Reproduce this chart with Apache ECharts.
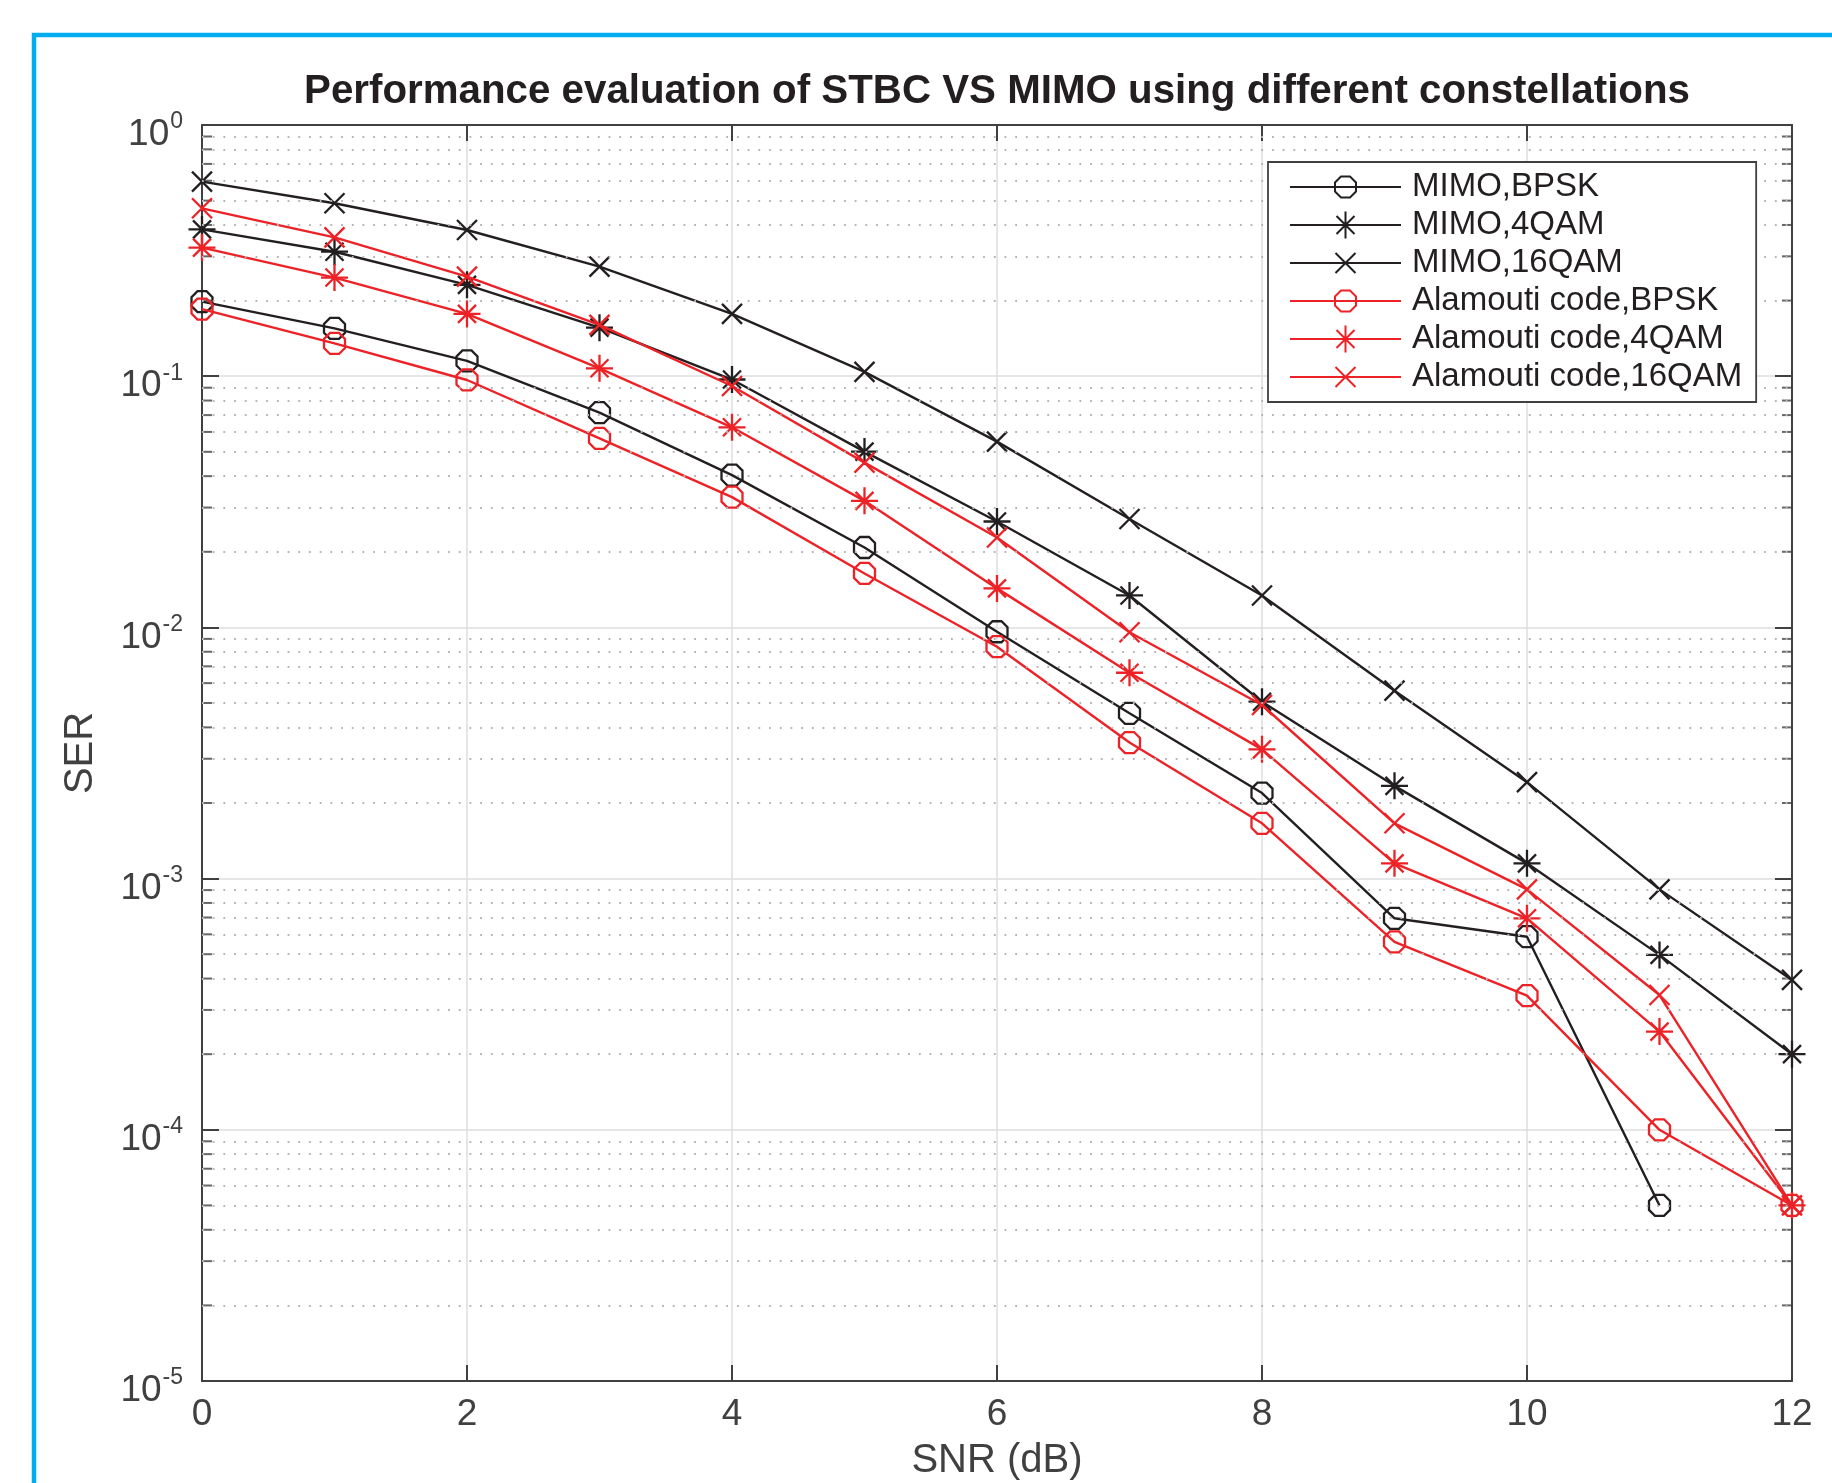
<!DOCTYPE html>
<html><head><meta charset="utf-8">
<style>html,body{margin:0;padding:0;background:#fff}#chart{width:1832px;height:1483px}</style>
<script src="https://cdn.jsdelivr.net/npm/echarts@6/dist/echarts.min.js"></script>
</head><body><div id="chart"></div>
<script>
// ---- data ----
const snr = [0, 1, 2, 3, 4, 5, 6, 7, 8, 9, 10, 11, 12];
const mimoBpsk   = [0.198, 0.155, 0.115, 0.0716, 0.0404, 0.0208, 0.00961, 0.00455, 0.00219, 0.000695, 0.000587, 0.00005, null];
const mimo4qam   = [0.384, 0.313, 0.231, 0.156, 0.097, 0.0501, 0.0264, 0.0134, 0.00506, 0.00234, 0.00115, 0.000497, 0.0002];
const mimo16qam  = [0.595, 0.488, 0.382, 0.273, 0.177, 0.104, 0.0549, 0.027, 0.0134, 0.0056, 0.00242, 0.000906, 0.000395];
const alaBpsk    = [0.185, 0.135, 0.0966, 0.0566, 0.033, 0.0164, 0.00838, 0.00348, 0.00166, 0.00056, 0.000342, 0.0001, 0.00005];
const ala4qam    = [0.325, 0.247, 0.177, 0.1075, 0.0626, 0.0319, 0.0143, 0.0066, 0.00327, 0.00115, 0.000695, 0.000246, 0.00005];
const ala16qam   = [0.466, 0.357, 0.249, 0.160, 0.0914, 0.0453, 0.0228, 0.00956, 0.00491, 0.00166, 0.000906, 0.000344, 0.00005];
const seriesNames = ['MIMO,BPSK', 'MIMO,4QAM', 'MIMO,16QAM', 'Alamouti code,BPSK', 'Alamouti code,4QAM', 'Alamouti code,16QAM'];
const xTickLabels = [0, 2, 4, 6, 8, 10, 12];
const yTickExponents = [0, -1, -2, -3, -4, -5];
const minorMultipliers = [2, 3, 4, 5, 6, 7, 8, 9];
const titleText = 'Performance evaluation of STBC VS MIMO using different constellations';
const xName = 'SNR (dB)';
const yName = 'SER';

// ---- styling ----
const FONT = '"Liberation Sans", Arial, Helvetica, sans-serif';
const AX = '#404040';
const BLACK = '#231f20';
const RED = '#ec2227';
const OCT = 'path://M0 0M28 28M9.5 3.5L18.5 3.5L24.5 9.5L24.5 18.5L18.5 24.5L9.5 24.5L3.5 18.5L3.5 9.5Z';
const STAR = 'path://M0 0M28 28M14 0.5L14 27.5M0.5 14L27.5 14M5 5L23 23M23 5L5 23';
const CROSS = 'path://M0 0M28 28M4 4L24 24M24 4L4 24';

const yMin = Math.pow(10, Math.min(...yTickExponents));
const yMax = Math.pow(10, Math.max(...yTickExponents));
const minorValues = [];
yTickExponents.slice(1).forEach(e => {
  minorMultipliers.forEach(m => minorValues.push(Number((m * Math.pow(10, e)).toPrecision(3))));
});

function lineSeries(name, values, color, symbol, z) {
  return {
    name: name, type: 'line',
    data: snr.map((x, i) => [x, values[i]]).filter(d => d[1] != null),
    symbol: symbol, symbolSize: 28, showSymbol: true, clip: false,
    itemStyle: { color: 'none', borderColor: color, borderWidth: 2.3 },
    lineStyle: { color: color, width: 2.4 },
    emphasis: { disabled: true }, z: z, animation: false
  };
}

const xMin = Math.min(...snr), xMax = Math.max(...snr);

const chart = echarts.init(document.getElementById('chart'), null, { renderer: 'canvas' });
const option = {
  backgroundColor: '#fff',
  animation: false,
  graphic: [
    { type: 'rect', silent: true, z: 0, shape: { x: 34, y: 35, width: 1900, height: 1600 },
      style: { fill: 'none', stroke: '#00aeef', lineWidth: 4.5 } },
    { type: 'text', silent: true, x: 997, y: 92,
      style: { text: titleText, font: 'bold 40.3px ' + FONT, fill: BLACK, align: 'center', verticalAlign: 'middle',
               textAlign: 'center', textVerticalAlign: 'middle' } }
  ],
  grid: { left: 202, top: 125, right: 40, bottom: 102, containLabel: false, outerBoundsMode: 'none' },
  legend: {
    data: seriesNames, orient: 'vertical', left: 1268, top: 162,
    padding: [6, 14, 6, 21], itemWidth: 111, itemHeight: 35, itemGap: 0,
    borderColor: AX, borderWidth: 1.8, backgroundColor: '#fff', selectedMode: false,
    textStyle: { fontFamily: FONT, fontSize: 33, color: BLACK, lineHeight: 38, padding: [0, 0, 0, 6] },
    z: 10
  },
  xAxis: [
    { type: 'value', position: 'bottom', min: xMin, max: xMax, interval: 2,
      name: xName, nameLocation: 'middle', nameGap: 60,
      nameTextStyle: { fontFamily: FONT, fontSize: 40, color: AX },
      axisLine: { show: true, onZero: false, lineStyle: { color: AX, width: 2 } },
      axisTick: { show: true, inside: true, length: 16, lineStyle: { color: AX, width: 2 } },
      axisLabel: { show: true, margin: 15, fontFamily: FONT, fontSize: 37, color: AX,
                   showMinLabel: true, showMaxLabel: true,
                   formatter: v => (xTickLabels.indexOf(v) >= 0 ? String(v) : '') },
      splitLine: { show: true, lineStyle: { color: '#dedede', width: 1.5 } } },
    { type: 'value', position: 'top', min: xMin, max: xMax, interval: 2,
      axisLine: { show: true, onZero: false, lineStyle: { color: AX, width: 2 } },
      axisTick: { show: true, inside: true, length: 16, lineStyle: { color: AX, width: 2 } },
      axisLabel: { show: false }, splitLine: { show: false } }
  ],
  yAxis: [
    { type: 'log', logBase: 10, position: 'left', min: yMin, max: yMax, splitNumber: 5,
      name: yName, nameLocation: 'middle', nameGap: 101,
      nameTextStyle: { fontFamily: FONT, fontSize: 40, color: AX },
      axisLine: { show: true, onZero: false, lineStyle: { color: AX, width: 2 } },
      axisTick: { show: true, inside: true, length: 17, lineStyle: { color: AX, width: 2 } },
      axisLabel: { show: true, margin: 19, color: AX, padding: [14, 0, 0, 0],
                   showMinLabel: true, showMaxLabel: true,
                   formatter: v => {
                     const e = Math.round(Math.log10(v));
                     return yTickExponents.indexOf(e) >= 0 ? '{b|10}{s|' + e + '}' : '';
                   },
                   rich: {
                     b: { fontFamily: FONT, fontSize: 37, lineHeight: 37, color: AX, verticalAlign: 'bottom' },
                     s: { fontFamily: FONT, fontSize: 23, color: AX, verticalAlign: 'top', padding: [0, 0, 20, 1] }
                   } },
      splitLine: { show: true, lineStyle: { color: '#dedede', width: 1.5 } } },
    { type: 'log', logBase: 10, position: 'right', min: yMin, max: yMax, splitNumber: 5,
      axisLine: { show: true, onZero: false, lineStyle: { color: AX, width: 2 } },
      axisTick: { show: true, inside: true, length: 17, lineStyle: { color: AX, width: 2 } },
      axisLabel: { show: false }, splitLine: { show: false } }
  ],
  series: [
    { name: 'minorLeft', type: 'scatter', silent: true, z: 1, animation: false,
      data: minorValues.map(v => [xMin, v]), symbol: 'rect', symbolSize: [10, 2], symbolOffset: [5, 0],
      itemStyle: { color: AX }, clip: false,
      markLine: { silent: true, symbol: ['none', 'none'], animation: false, label: { show: false },
                  precision: 20,
                  lineStyle: { type: [1.8, 8.9], color: '#b4b4b4', width: 1.8 },
                  emphasis: { disabled: true },
                  data: minorValues.map(v => ({ yAxis: v })) } },
    { name: 'minorRight', type: 'scatter', silent: true, z: 1, animation: false,
      data: minorValues.map(v => [xMax, v]), symbol: 'rect', symbolSize: [10, 2], symbolOffset: [-5, 0],
      itemStyle: { color: AX }, clip: false },
    lineSeries(seriesNames[0], mimoBpsk, BLACK, OCT, 3),
    lineSeries(seriesNames[1], mimo4qam, BLACK, STAR, 3),
    lineSeries(seriesNames[2], mimo16qam, BLACK, CROSS, 3),
    lineSeries(seriesNames[3], alaBpsk, RED, OCT, 4),
    lineSeries(seriesNames[4], ala4qam, RED, STAR, 4),
    lineSeries(seriesNames[5], ala16qam, RED, CROSS, 4)
  ]
};
chart.setOption(option);
</script></body></html>
